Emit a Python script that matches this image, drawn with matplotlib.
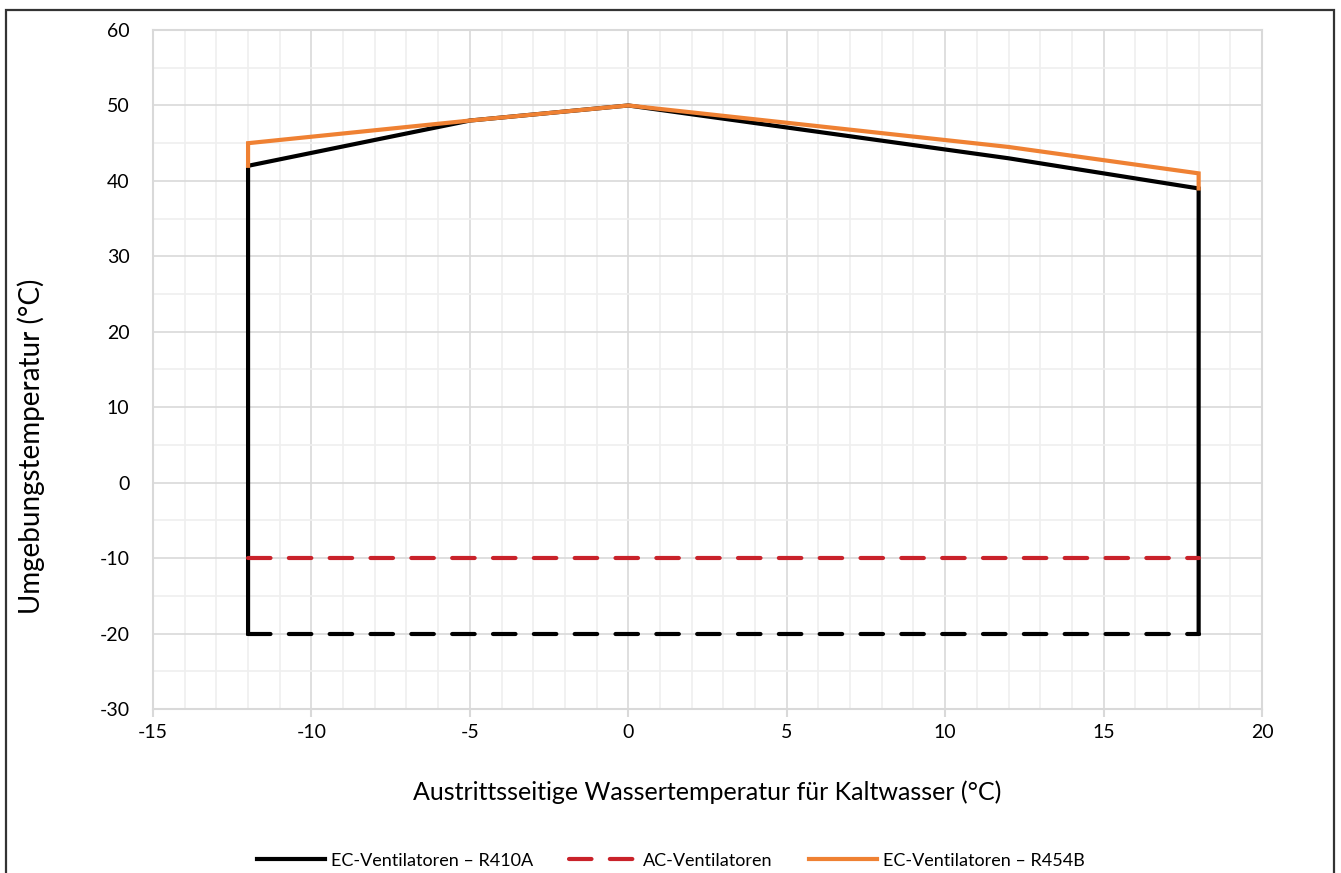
import matplotlib.pyplot as plt
import matplotlib.patches as patches
from matplotlib.ticker import MultipleLocator

plt.rcParams["font.family"] = ["Lato", "DejaVu Sans"]
plt.rcParams["axes.unicode_minus"] = False

# Einsatzgrenzen (Wasseraustritt / Umgebung)
ec_r410a_x = [-12, -12, -5, 0, 12, 18, 18]
ec_r410a_y = [-20, 42, 48, 50, 43, 39, -20]
ec_low_x = [-12, 18]
ec_low_y = [-20, -20]

ac_x = [-12, 18]
ac_y = [-10, -10]

ec_r454b_x = [-12, -12, -5, 0, 12, 18, 18]
ec_r454b_y = [42, 45, 48, 50, 44.5, 41, 39]

x_ticks = list(range(-15, 21, 5))
y_ticks = list(range(-30, 61, 10))

fig = plt.figure(figsize=(13.41, 8.73), dpi=100)
ax = fig.add_axes([0.1141, 0.1879, 0.8270, 0.7777])

grid_c = "#d9d9d9"
minor_c = "#efefef"
lw = 3.0

ax.plot(ec_r410a_x, ec_r410a_y, color="black", lw=lw, solid_joinstyle="miter",
        label="EC-Ventilatoren \u2013 R410A", zorder=3)
ax.plot(ec_low_x, ec_low_y, color="black", lw=lw, dashes=(5.4, 4.4),
        dash_capstyle="round", zorder=3)
ax.plot(ac_x, ac_y, color="#c9222a", lw=lw, dashes=(5.4, 4.4),
        dash_capstyle="round", label="AC-Ventilatoren", zorder=3)
ax.plot(ec_r454b_x, ec_r454b_y, color="#ef8133", lw=lw, solid_joinstyle="miter",
        label="EC-Ventilatoren \u2013 R454B", zorder=4)

ax.set_xlim(-15, 20)
ax.set_ylim(-30, 60)
ax.set_xticks(x_ticks)
ax.set_yticks(y_ticks)
ax.xaxis.set_minor_locator(MultipleLocator(1))
ax.yaxis.set_minor_locator(MultipleLocator(5))
ax.grid(which="major", color=grid_c, lw=1.2)
ax.grid(which="minor", color=minor_c, lw=1.2)
ax.set_axisbelow(True)

for s in ax.spines.values():
    s.set_color(grid_c)
    s.set_linewidth(1.5)

ax.tick_params(axis="x", which="major", length=6, color=grid_c, width=1.5,
               labelsize=14, pad=5)
ax.tick_params(axis="y", which="major", length=0, labelsize=14, pad=17)
ax.tick_params(which="minor", length=0)

ax.set_xlabel("Austrittsseitige Wassertemperatur f\u00fcr Kaltwasser (\u00b0C)",
              fontsize=18, labelpad=28)
ax.set_ylabel("Umgebungstemperatur (\u00b0C)", fontsize=20)
ax.yaxis.set_label_coords(-0.097, 0.387)

fig.legend(loc="center", bbox_to_anchor=(0.5, 0.014), ncol=3, frameon=False,
           fontsize=13, handlelength=3.8, columnspacing=2.0, handletextpad=0.3)

# Rahmen um das Diagramm
fig.patches.append(patches.Rectangle((0.0045, -0.01), 0.9905, 0.9985,
                                     transform=fig.transFigure, fill=False,
                                     edgecolor="#333333", lw=1.6))

fig.savefig("out.png", dpi=100)
